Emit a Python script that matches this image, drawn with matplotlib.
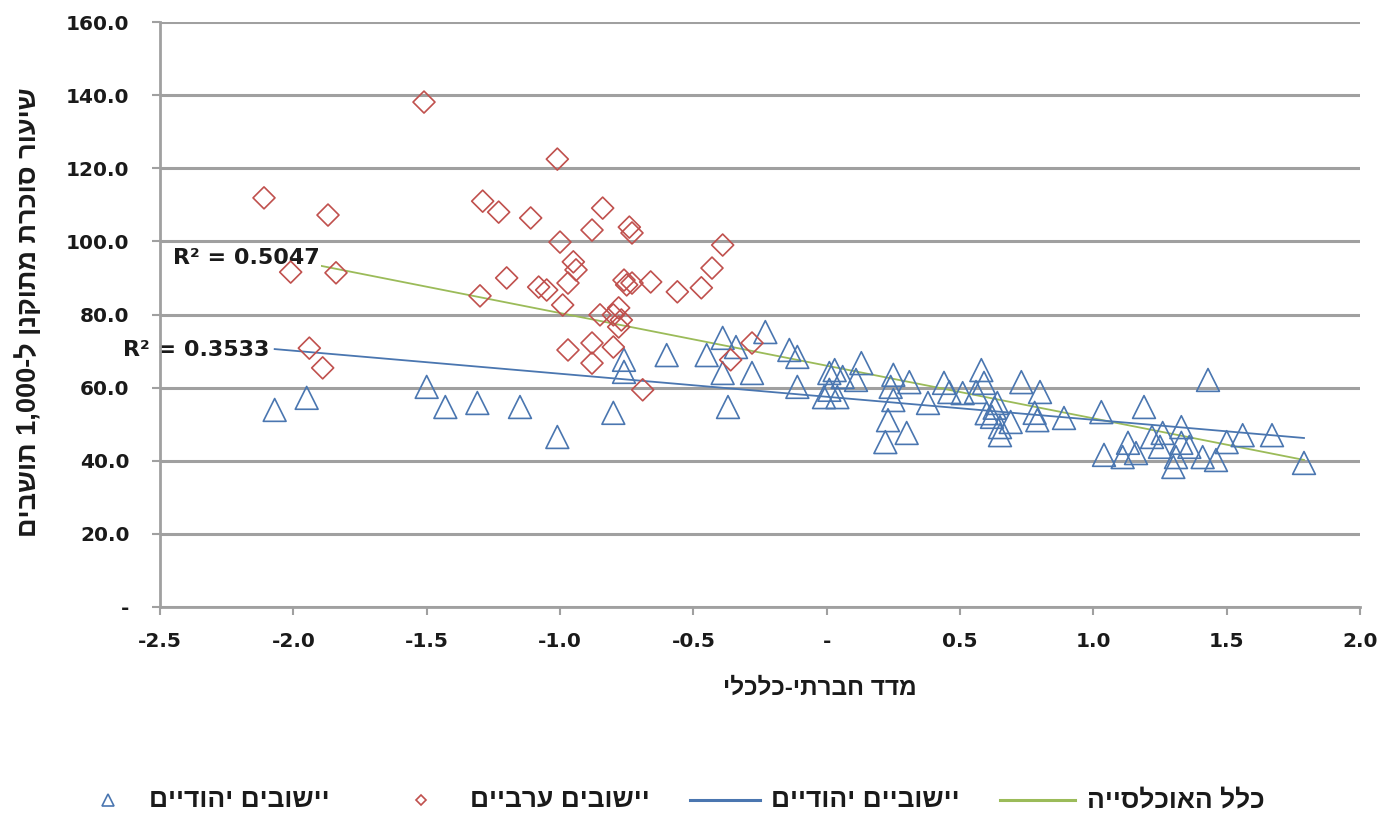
import re
import numpy as np
import matplotlib
matplotlib.use("Agg")
import matplotlib.pyplot as plt
from matplotlib.lines import Line2D
from matplotlib.ticker import FuncFormatter

# socio-economic index vs. adjusted diabetes rate per 1,000 residents
arab_x = [-2.11, -2.01, -1.87, -1.84, -1.94, -1.89, -1.51, -1.29, -1.23, -1.30,
          -1.11, -1.20, -1.08, -1.05, -1.01, -1.00, -0.99, -0.97, -0.95, -0.94,
          -0.84, -0.88, -0.74, -0.73, -0.97, -0.76, -0.75, -0.66, -0.56, -0.47,
          -0.43, -0.39, -0.85, -0.78, -0.80, -0.77, -0.78, -0.88, -0.88, -0.80,
          -0.69, -0.28, -0.36, -0.73]
arab_y = [111.9, 91.6, 107.2, 91.4, 70.8, 65.4, 138.1, 111.0, 108.0, 85.1,
          106.4, 90.0, 87.5, 86.7, 122.5, 99.8, 82.6, 70.3, 94.4, 92.2,
          109.1, 103.1, 103.9, 102.3, 88.6, 89.4, 88.1, 88.9, 86.2, 87.3,
          92.7, 99.0, 79.9, 81.8, 79.9, 78.5, 76.6, 72.2, 66.7, 71.1,
          59.4, 72.2, 67.6, 88.6]

jewish_x = [-2.07, -1.95, -1.50, -1.43, -1.31, -1.15, -1.01, -0.80, -0.76, -0.76,
            -0.60, -0.45, -0.39, -0.39, -0.37, -0.23, -0.28, -0.34, -0.14, -0.11,
            -0.11, -0.01, 0.01, 0.03, 0.06, 0.11, 0.13, 0.04, 0.01, 0.25,
            0.24, 0.25, 0.31, 0.23, 0.22, 0.30, 0.38, 0.44, 0.46, 0.51,
            0.58, 0.59, 0.56, 0.64, 0.62, 0.65, 0.65, 0.69, 0.60, 0.63,
            0.73, 0.80, 0.78, 0.79, 0.89, 1.43, 1.03, 1.19, 1.04, 1.13,
            1.11, 1.16, 1.22, 1.26, 1.33, 1.25, 1.30, 1.31, 1.36, 1.41,
            1.46, 1.50, 1.56, 1.67, 1.79, 1.33]
jewish_y = [53.9, 57.2, 60.2, 54.7, 55.8, 54.7, 46.5, 53.1, 67.6, 64.3,
            68.9, 68.9, 73.6, 64.0, 54.7, 75.2, 64.0, 71.1, 70.3, 68.4,
            60.2, 57.4, 64.0, 64.8, 62.9, 62.1, 66.7, 57.4, 59.4, 63.5,
            60.2, 56.6, 61.5, 51.1, 45.1, 47.6, 55.8, 61.3, 58.8, 58.5,
            64.8, 61.3, 58.8, 55.8, 52.0, 49.2, 47.0, 50.6, 53.0, 54.5,
            61.5, 58.8, 53.1, 51.1, 51.7, 62.1, 53.3, 54.7, 41.6, 44.9,
            41.0, 42.1, 46.5, 47.6, 49.2, 43.8, 38.3, 41.0, 43.8, 41.0,
            40.2, 45.1, 47.0, 47.0, 39.4, 44.9]

# linear trendlines (slope, intercept) and their R² values
trend_all = (-14.4, 66.0)
trend_jewish = (-6.3, 57.5)
r2_all = 0.5047
r2_jewish = 0.3533

x_ticks = [-2.5, -2.0, -1.5, -1.0, -0.5, 0.0, 0.5, 1.0, 1.5, 2.0]
y_ticks = [0, 20, 40, 60, 80, 100, 120, 140, 160]

legend_labels = ["יישובים יהודיים", "יישובים ערביים", "יישוביים יהודיים", "כלל האוכלסייה"]
x_title = "מדד חברתי-כלכלי"
y_title = "שיעור סוכרת מתוקנן ל-1,000 תושבים"

BLUE = "#4a76b0"
RED = "#c0504d"
GREEN = "#9bbb59"
GRID = "#a0a0a0"
DARK = "#1a1a1a"
HEB = ["Liberation Sans", "DejaVu Sans"]


def heb(s):
    # no bidi support in matplotlib: flip to visual order, keep numbers readable
    r = s[::-1]
    return re.sub(r"[\d,.]+", lambda m: m.group(0)[::-1], r)


W, H = 1384, 815
fig = plt.figure(figsize=(W / 100, H / 100), dpi=100)
ax = fig.add_axes([160 / W, 1 - 607 / H, 1200 / W, 585 / H])

ax.set_xlim(-2.5, 2.0)
ax.set_ylim(0, 160)
ax.set_xticks(x_ticks)
ax.set_yticks(y_ticks)
fmt = FuncFormatter(lambda v, p: "-" if abs(v) < 1e-9 else f"{v:.1f}")
ax.xaxis.set_major_formatter(fmt)
ax.yaxis.set_major_formatter(fmt)

ax.grid(axis="y", color=GRID, linewidth=2.2, zorder=0)
ax.set_axisbelow(True)
for side in ["top", "right"]:
    ax.spines[side].set_visible(False)
for side in ["left", "bottom"]:
    ax.spines[side].set_color(GRID)
    ax.spines[side].set_linewidth(2.0)
ax.tick_params(axis="both", direction="out", length=6, width=1.5, color=GRID,
               labelsize=14.5, labelcolor=DARK)
ax.tick_params(axis="y", pad=16)
ax.tick_params(axis="x", pad=12)
for lab in ax.get_xticklabels() + ax.get_yticklabels():
    lab.set_fontweight("bold")

# trendlines over each series' x range
xa = np.array([min(arab_x + jewish_x), max(arab_x + jewish_x)])
ax.plot(xa, trend_all[0] * xa + trend_all[1], color=GREEN, linewidth=1.3, zorder=1)
xj = np.array([min(jewish_x), max(jewish_x)])
ax.plot(xj, trend_jewish[0] * xj + trend_jewish[1], color=BLUE, linewidth=1.3, zorder=1)

ax.text(-1.90, 95.5, f"R² = {r2_all:.4f}", ha="right", va="center", fontsize=16,
        fontweight="bold", color=DARK, zorder=2,
        bbox=dict(facecolor="white", edgecolor="none", pad=1))
ax.text(-2.088, 70.3, f"R² = {r2_jewish:.4f}", ha="right", va="center", fontsize=16,
        fontweight="bold", color=DARK, zorder=2, clip_on=False,
        bbox=dict(facecolor="white", edgecolor="none", pad=1))

ax.scatter(jewish_x, jewish_y, marker="^", s=270, facecolors="none",
           edgecolors=BLUE, linewidths=1.2, zorder=3)
ax.scatter(arab_x, arab_y, marker="D", s=125, facecolors="none",
           edgecolors=RED, linewidths=1.2, zorder=4)

fig.text(820 / W, 1 - 688 / H, heb(x_title), family=HEB, fontsize=17.5,
         fontweight="bold", color=DARK, ha="center", va="center")
fig.text(29 / W, 1 - 312 / H, heb(y_title), family=HEB, fontsize=19.5,
         fontweight="bold", color=DARK, ha="center", va="center", rotation=90)

# legend row, laid out right-to-left like the source
ly = 1 - 800 / H
fig.add_artist(Line2D([108 / W], [ly], marker="^", markersize=8, linestyle="none",
                      markerfacecolor="none", markeredgecolor=BLUE, markeredgewidth=1.2))
fig.add_artist(Line2D([421 / W], [ly], marker="D", markersize=5.5, linestyle="none",
                      markerfacecolor="none", markeredgecolor=RED, markeredgewidth=1.2))
fig.add_artist(Line2D([690 / W, 760 / W], [ly, ly], color=BLUE, linewidth=2.2))
fig.add_artist(Line2D([1000 / W, 1075 / W], [ly, ly], color=GREEN, linewidth=2.2))
for xr, lab in zip([330, 650, 960, 1265], legend_labels):
    fig.text(xr / W, ly, heb(lab), family=HEB, fontsize=19, fontweight="bold",
             color=DARK, ha="right", va="center")

fig.savefig("out.png", dpi=100)
